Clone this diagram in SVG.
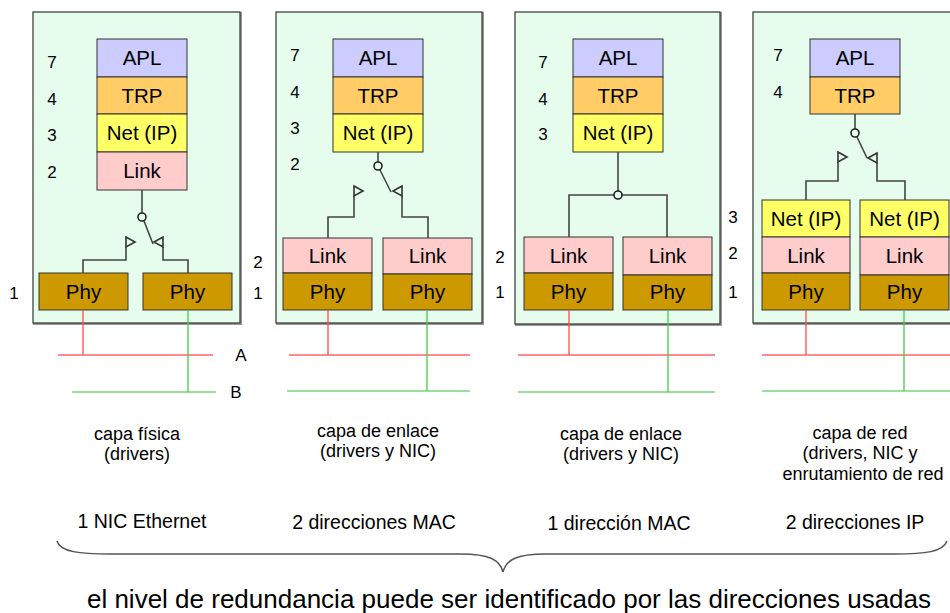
<svg xmlns="http://www.w3.org/2000/svg" width="950" height="613" viewBox="0 0 950 613">
  <defs>
    <style>
      .panel { fill: #e6fdee; stroke: #333; stroke-width: 1.2; }
      .shadow { fill: none; stroke: #999; stroke-width: 2; }
      .box { stroke: #333; stroke-width: 1; }
      .apl { fill: #ccccff; }
      .trp { fill: #ffcc66; }
      .net { fill: #ffff66; }
      .lnk { fill: #ffcccc; }
      .phy { fill: #cc9900; }
      .lbl { font-family: "Liberation Sans", Arial, sans-serif; font-size: 20.5px; fill: #000; text-anchor: middle; }
      .num { font-family: "Liberation Sans", Arial, sans-serif; font-size: 17px; fill: #000; text-anchor: middle; }
      .cap { font-family: "Liberation Sans", Arial, sans-serif; font-size: 18px; fill: #000; text-anchor: middle; }
      .addr { font-family: "Liberation Sans", Arial, sans-serif; font-size: 19.5px; fill: #000; text-anchor: middle; }
      .title { font-family: "Liberation Sans", Arial, sans-serif; font-size: 26px; fill: #000; text-anchor: middle; }
      .wire { fill: none; stroke: #444; stroke-width: 1.6; }
      .tri { fill: #e6fdee; stroke: #333; stroke-width: 1.6; stroke-linejoin: miter; }
      .node { fill: #e6fdee; stroke: #222; stroke-width: 1.6; }
      .redv { stroke: #ff4d4d; stroke-width: 1.3; }
      .redh { stroke: #ff8c8c; stroke-width: 2; }
      .grnv { stroke: #44cc44; stroke-width: 1.3; }
      .grnh { stroke: #99e099; stroke-width: 2; }
      .brace { fill: none; stroke: #555; stroke-width: 1.5; }
    </style>
  </defs>

  <!-- host 1: redundancy at the physical layer -->
  <g id="host-phy">
    <rect class="shadow" x="34" y="13" width="207" height="311"/>
    <rect class="panel" x="33" y="12" width="207" height="311"/>
    <rect class="box apl" x="97" y="39" width="90" height="38"/>
    <rect class="box trp" x="97" y="77" width="90" height="37"/>
    <rect class="box net" x="97" y="114" width="90" height="38"/>
    <rect class="box lnk" x="97" y="152" width="90" height="38"/>
    <text class="lbl" x="142" y="65">APL</text>
    <text class="lbl" x="142" y="103">TRP</text>
    <text class="lbl" x="142" y="140">Net (IP)</text>
    <text class="lbl" x="142" y="178">Link</text>
    <text class="num" x="52" y="68">7</text>
    <text class="num" x="52" y="105">4</text>
    <text class="num" x="52" y="141">3</text>
    <text class="num" x="52" y="178">2</text>
    <rect class="box phy" x="39" y="273" width="89" height="37"/>
    <rect class="box phy" x="143" y="273" width="89" height="37"/>
    <text class="lbl" x="83.5" y="299">Phy</text>
    <text class="lbl" x="187.5" y="299">Phy</text>
  </g>

  <!-- host 2: redundancy at the link layer (two MACs) -->
  <g id="host-link2">
    <rect class="shadow" x="277" y="13" width="206" height="311"/>
    <rect class="panel" x="276" y="12" width="206" height="311"/>
    <rect class="box apl" x="333" y="39" width="90" height="38"/>
    <rect class="box trp" x="333" y="77" width="90" height="37"/>
    <rect class="box net" x="333" y="114" width="90" height="38"/>
    <text class="lbl" x="378" y="65">APL</text>
    <text class="lbl" x="378" y="103">TRP</text>
    <text class="lbl" x="378" y="140">Net (IP)</text>
    <text class="num" x="295" y="61">7</text>
    <text class="num" x="295" y="98">4</text>
    <text class="num" x="295" y="134">3</text>
    <text class="num" x="295" y="170">2</text>
    <rect class="box lnk" x="283" y="238" width="89" height="35"/>
    <rect class="box phy" x="283" y="273" width="89" height="37"/>
    <rect class="box lnk" x="383" y="238" width="89" height="36"/>
    <rect class="box phy" x="383" y="274" width="89" height="36"/>
    <text class="lbl" x="327.5" y="263">Link</text>
    <text class="lbl" x="327.5" y="299">Phy</text>
    <text class="lbl" x="427.5" y="263">Link</text>
    <text class="lbl" x="427.5" y="299">Phy</text>
  </g>

  <!-- host 3: link layer, one shared MAC -->
  <g id="host-link1">
    <rect class="shadow" x="516" y="13" width="205" height="312"/>
    <rect class="panel" x="515" y="12" width="205" height="312"/>
    <rect class="box apl" x="573" y="39" width="90" height="38"/>
    <rect class="box trp" x="573" y="77" width="90" height="37"/>
    <rect class="box net" x="573" y="114" width="90" height="38"/>
    <text class="lbl" x="618" y="65">APL</text>
    <text class="lbl" x="618" y="103">TRP</text>
    <text class="lbl" x="618" y="140">Net (IP)</text>
    <text class="num" x="543" y="68">7</text>
    <text class="num" x="543" y="105">4</text>
    <text class="num" x="543" y="140">3</text>
    <rect class="box lnk" x="524" y="237" width="89" height="36"/>
    <rect class="box phy" x="524" y="273" width="89" height="37"/>
    <rect class="box lnk" x="623" y="237" width="89" height="38"/>
    <rect class="box phy" x="623" y="275" width="89" height="35"/>
    <text class="lbl" x="568.5" y="263">Link</text>
    <text class="lbl" x="568.5" y="299">Phy</text>
    <text class="lbl" x="667.5" y="263">Link</text>
    <text class="lbl" x="667.5" y="299">Phy</text>
  </g>

  <!-- host 4: redundancy at the network layer (two IPs) -->
  <g id="host-net">
    <rect class="shadow" x="754" y="13" width="210" height="311"/>
    <rect class="panel" x="753" y="12" width="210" height="311"/>
    <rect class="box apl" x="810" y="39" width="90" height="38"/>
    <rect class="box trp" x="810" y="77" width="90" height="37"/>
    <text class="lbl" x="855" y="65">APL</text>
    <text class="lbl" x="855" y="103">TRP</text>
    <text class="num" x="778" y="61">7</text>
    <text class="num" x="778" y="98">4</text>
    <rect class="box net" x="762" y="200" width="88" height="37"/>
    <rect class="box lnk" x="762" y="237" width="88" height="36"/>
    <rect class="box phy" x="762" y="273" width="88" height="37"/>
    <rect class="box net" x="860" y="200" width="89" height="37"/>
    <rect class="box lnk" x="860" y="237" width="89" height="38"/>
    <rect class="box phy" x="860" y="275" width="89" height="35"/>
    <text class="lbl" x="806" y="226">Net (IP)</text>
    <text class="lbl" x="806" y="263">Link</text>
    <text class="lbl" x="806" y="299">Phy</text>
    <text class="lbl" x="904.5" y="226">Net (IP)</text>
    <text class="lbl" x="904.5" y="263">Link</text>
    <text class="lbl" x="904.5" y="299">Phy</text>
  </g>

  <!-- layer numbers between hosts -->
  <g id="layer-numbers">
    <text class="num" x="14" y="299">1</text>
    <text class="num" x="258" y="268">2</text>
    <text class="num" x="258" y="299">1</text>
    <text class="num" x="500" y="263">2</text>
    <text class="num" x="500" y="298">1</text>
    <text class="num" x="733" y="223">3</text>
    <text class="num" x="733" y="259">2</text>
    <text class="num" x="733" y="298">1</text>
  </g>

  <!-- internal switches and junctions -->
  <g id="connectors">
    <!-- host 1 switch -->
    <line class="wire" x1="142" y1="190" x2="142" y2="213"/>
    <line class="wire" x1="144" y1="221" x2="153" y2="244"/>
    <circle class="node" cx="142" cy="217" r="4"/>
    <polyline class="wire" points="126,247 126,260 83,260 83,273"/>
    <polyline class="wire" points="163,247 163,260 188,260 188,273"/>
    <polygon class="tri" points="126,237 135,242 126,247"/>
    <polygon class="tri" points="163,237 154,242 163,247"/>

    <!-- host 2 switch -->
    <line class="wire" x1="378" y1="152" x2="378" y2="162"/>
    <line class="wire" x1="380" y1="170" x2="391" y2="192"/>
    <circle class="node" cx="378" cy="166" r="4"/>
    <polyline class="wire" points="354,196 354,217 328,217 328,238"/>
    <polyline class="wire" points="402,196 402,217 428,217 428,238"/>
    <polygon class="tri" points="354,186 363,191 354,196"/>
    <polygon class="tri" points="402,186 393,191 402,196"/>

    <!-- host 3 junction -->
    <line class="wire" x1="618" y1="152" x2="618" y2="191"/>
    <polyline class="wire" points="614,195 569,195 569,237"/>
    <polyline class="wire" points="622,195 667,195 667,237"/>
    <circle class="node" cx="618" cy="195" r="4"/>

    <!-- host 4 switch -->
    <line class="wire" x1="855" y1="114" x2="855" y2="129"/>
    <line class="wire" x1="857" y1="137" x2="867" y2="158"/>
    <circle class="node" cx="855" cy="133" r="4"/>
    <polyline class="wire" points="838,162 838,181 806,181 806,200"/>
    <polyline class="wire" points="877,163 877,181 905,181 905,200"/>
    <polygon class="tri" points="838,152 847,157 838,162"/>
    <polygon class="tri" points="877,153 868,158 877,163"/>
  </g>

  <!-- networks A (red) and B (green) -->
  <g id="networks">
    <line class="redh" x1="58" y1="355" x2="213" y2="355"/>
    <line class="grnh" x1="72" y1="392" x2="216" y2="392"/>
    <line class="redv" x1="83" y1="310" x2="83" y2="355"/>
    <line class="grnv" x1="188" y1="310" x2="188" y2="392"/>

    <line class="redh" x1="289" y1="355" x2="470" y2="355"/>
    <line class="grnh" x1="287" y1="391" x2="470" y2="391"/>
    <line class="redv" x1="328" y1="310" x2="328" y2="355"/>
    <line class="grnv" x1="427" y1="310" x2="427" y2="391"/>

    <line class="redh" x1="518" y1="355" x2="715" y2="355"/>
    <line class="grnh" x1="518" y1="392" x2="715" y2="392"/>
    <line class="redv" x1="569" y1="310" x2="569" y2="355"/>
    <line class="grnv" x1="668" y1="310" x2="668" y2="392"/>

    <line class="redh" x1="762" y1="355" x2="950" y2="355"/>
    <line class="grnh" x1="762" y1="391" x2="950" y2="391"/>
    <line class="redv" x1="806" y1="310" x2="806" y2="355"/>
    <line class="grnv" x1="904" y1="310" x2="904" y2="391"/>

    <text class="num" x="241" y="361">A</text>
    <text class="num" x="236" y="398">B</text>
  </g>

  <!-- captions -->
  <g id="captions">
    <text class="cap" x="137" y="440">capa física</text>
    <text class="cap" x="137" y="460">(drivers)</text>
    <text class="cap" x="378" y="437">capa de enlace</text>
    <text class="cap" x="378" y="457">(drivers y NIC)</text>
    <text class="cap" x="621" y="440">capa de enlace</text>
    <text class="cap" x="621" y="460">(drivers y NIC)</text>
    <text class="cap" x="860" y="439">capa de red</text>
    <text class="cap" x="860" y="459">(drivers, NIC y</text>
    <text class="cap" x="863" y="480">enrutamiento de red</text>

    <text class="addr" x="142" y="528">1 NIC Ethernet</text>
    <text class="addr" x="374" y="529">2 direcciones MAC</text>
    <text class="addr" x="619" y="530">1 dirección MAC</text>
    <text class="addr" x="855" y="529">2 direcciones IP</text>
  </g>

  <!-- brace and conclusion -->
  <g id="summary">
    <path class="brace" d="M57,541 C60,552 80,554 110,554 L460,554 C490,554 500,560 503,572 C506,560 516,554 546,554 L895,554 C925,554 943,552 947,541"/>
    <text class="title" x="509" y="608">el nivel de redundancia puede ser identificado por las direcciones usadas</text>
  </g>
</svg>
